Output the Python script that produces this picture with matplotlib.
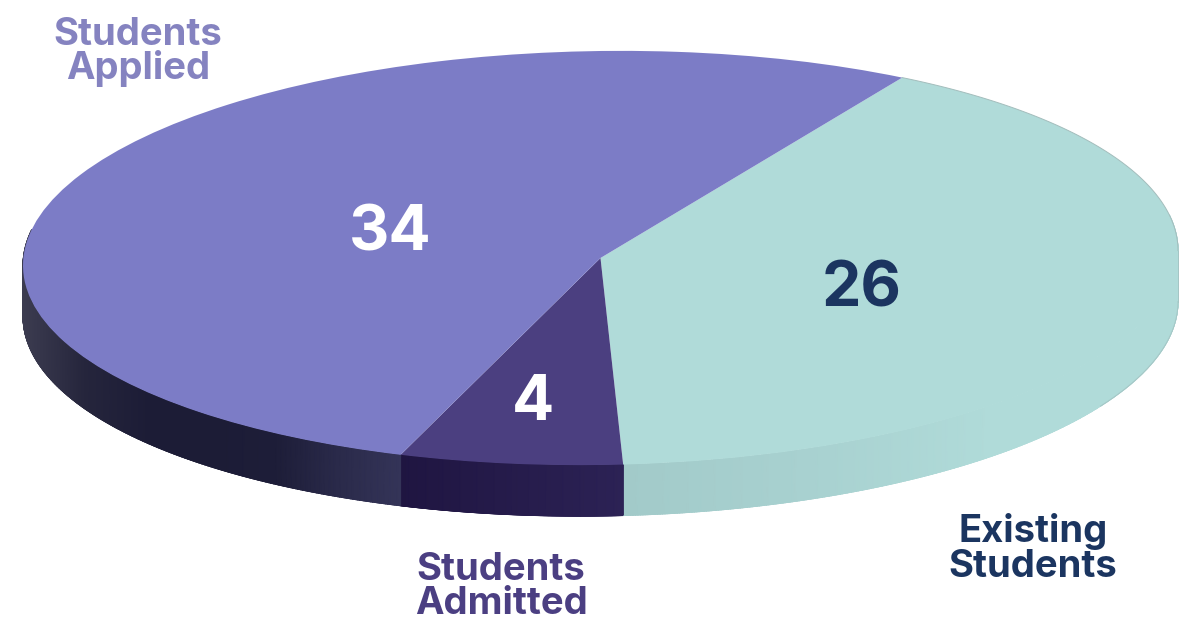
import numpy as np
import matplotlib
matplotlib.use('Agg')
import matplotlib.pyplot as plt
from matplotlib.collections import LineCollection
from matplotlib.colors import LinearSegmentedColormap
from matplotlib.transforms import Affine2D

W, H = 1195, 623

categories = ['Existing\nStudents', 'Students\nAdmitted', 'Students\nApplied']
values = [26, 4, 34]

top_colors = ['#b0dbd9', '#4b3f80', '#7c7cc6']
text_colors = ['#1b3560', '#4b3f82', '#8583c0']
value_colors = ['#1b3560', '#ffffff', '#ffffff']

# colour of the rim, running left to right along each slice
rim_stops = [
    ['#a2cac9', '#a8d1d0', '#b0dbd9', '#b0dbd9'],
    ['#1f1541', '#2c2255'],
    ['#3c3c50', '#25253c', '#1c1c36', '#1c1c36', '#1d1d38', '#2a2a4a', '#343458'],
]

CX, CY = 600.5, 258
RX, RY = 577.5, 207
DEPTH = 51 / RY
TILT = 0.036


def px(x, y):
    return x / W, 1 - y / H


fig = plt.figure(figsize=(W / 100, H / 100), dpi=100)
ax = fig.add_axes([0, 0, 1, 1])

wedges, _ = ax.pie(values, colors=top_colors, startangle=58.5, counterclock=False,
                   radius=1, wedgeprops={'linewidth': 0})

# the disc leans very slightly, right side up
lean = Affine2D.from_values(1, TILT, 0, 1, 0, 0) + ax.transData

# the rim is a smooth mesh under each slice, with a thin line to clean its lower edge
for wedge, stops in zip(wedges, rim_stops):
    t1 = wedge.theta1 % 360
    t2 = t1 + (wedge.theta2 - wedge.theta1)
    t1, t2 = max(t1, 170), min(t2, 370)
    angles = np.radians(np.linspace(t1, t2, 400))
    xs = np.cos(angles)
    ys = np.sin(angles)
    shade = (xs - xs.min()) / (xs.max() - xs.min())
    cmap = LinearSegmentedColormap.from_list('rim', stops, N=1024)
    ax.pcolormesh(np.column_stack([xs, xs]), np.column_stack([ys, ys - DEPTH]),
                  np.column_stack([shade, shade]), cmap=cmap, vmin=0, vmax=1,
                  shading='gouraud', zorder=0, transform=lean)
    low = np.column_stack([xs, ys - DEPTH])
    segs = np.stack([low[:-1], low[1:]], axis=1)
    ax.add_collection(LineCollection(segs, colors=cmap(shade[:-1]), linewidths=0.6,
                                     capstyle='round', zorder=1, transform=lean))

ax.set_aspect('auto')
ax.set_xlim(-CX / RX, (W - CX) / RX)
ax.set_ylim(-(H - CY) / RY, CY / RY)

for wedge in wedges:
    wedge.set_zorder(2)
    wedge.set_transform(lean)

# faint outline along the back of the teal slice and down its right side
arc = np.radians(np.linspace(0, wedges[0].theta2, 120))
low = np.radians(np.linspace(-30, 0, 60))
ax.plot(np.cos(arc), np.sin(arc), color='#a3bdbc', lw=0.7, zorder=3, transform=lean)
ax.plot(np.cos(low), np.sin(low) - DEPTH, color='#a5c6c5', lw=0.7, zorder=3, transform=lean)
ax.plot([1, 1], [0, -DEPTH], color='#a5c6c5', lw=0.7, zorder=3, transform=lean)

value_pos = [(862, 290), (533, 403), (390, 234)]
for v, c, (x, y) in zip(values, value_colors, value_pos):
    fx, fy = px(x, y)
    fig.text(fx, fy, str(v), color=c, fontsize=45, fontweight='bold', family='Inter',
             ha='center', va='center')

label_pos = [(1033, 549), (501, 587), (138, 52)]
for name, c, (x, y) in zip(categories, text_colors, label_pos):
    fx, fy = px(x, y)
    fig.text(fx, fy, name, color=c, fontsize=27.5, fontweight='bold', family='Inter',
             ha='center', va='center', linespacing=0.93)

plt.savefig('out.png', dpi=100)
